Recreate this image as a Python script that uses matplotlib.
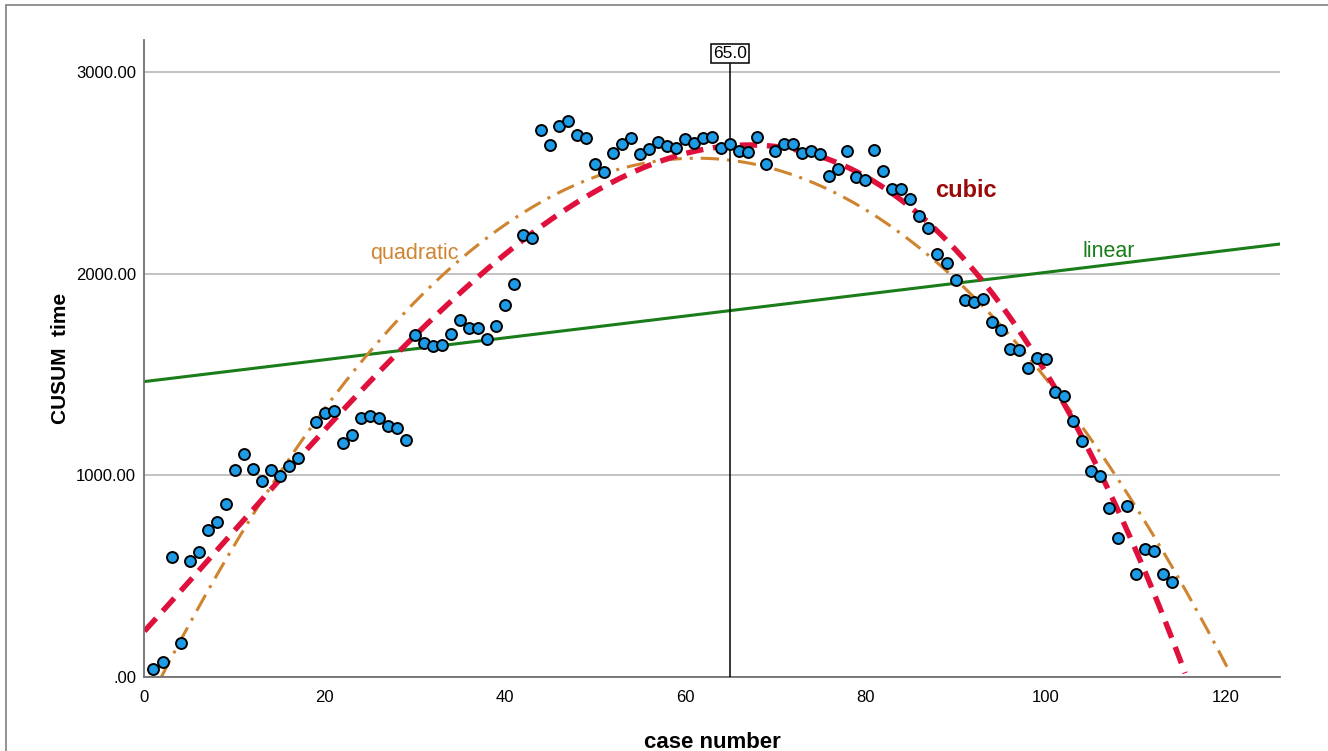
import numpy as np
import matplotlib.pyplot as plt
from matplotlib.patches import Rectangle

plt.rcParams["font.family"] = ["Liberation Sans", "DejaVu Sans"]

# case numbers (case 18 is not visible in the chart)
case_no = [1, 2, 3, 4, 5, 6, 7, 8, 9, 10, 11, 12, 13, 14, 15, 16, 17,
           19, 20, 21, 22, 23, 24, 25, 26, 27, 28, 29, 30,
           31, 32, 33, 34, 35, 36, 37, 38, 39, 40,
           41, 42, 43, 44, 45, 46, 47, 48, 49, 50,
           51, 52, 53, 54, 55, 56, 57, 58, 59, 60,
           61, 62, 63, 64, 65, 66, 67, 68, 69, 70,
           71, 72, 73, 74, 75, 76, 77, 78, 79, 80,
           81, 82, 83, 84, 85, 86, 87, 88, 89, 90,
           91, 92, 93, 94, 95, 96, 97, 98, 99, 100,
           101, 102, 103, 104, 105, 106, 107, 108, 109, 110,
           111, 112, 113, 114]
cusum_time = [41, 76, 597, 167, 575, 620, 732, 767, 861, 1026, 1106, 1033, 972, 1025, 998, 1046, 1089,
              1266, 1312, 1320, 1159, 1203, 1287, 1296, 1283, 1248, 1235, 1178, 1696,
              1659, 1643, 1646, 1704, 1770, 1732, 1732, 1679, 1742, 1844,
              1952, 2195, 2180, 2715, 2642, 2733, 2758, 2689, 2676, 2547,
              2505, 2601, 2646, 2676, 2596, 2621, 2656, 2633, 2624, 2669,
              2652, 2677, 2682, 2624, 2646, 2608, 2604, 2682, 2547, 2608,
              2646, 2646, 2601, 2609, 2596, 2484, 2519, 2608, 2480, 2464,
              2613, 2509, 2423, 2423, 2373, 2286, 2228, 2101, 2054, 1970,
              1869, 1863, 1878, 1762, 1722, 1630, 1621, 1535, 1585, 1580,
              1414, 1393, 1271, 1170, 1023, 998, 839, 688, 849, 509,
              633, 625, 509, 470]

cut_case = 65.0
x_max = 126
y_max = 3160

x = np.array(case_no, dtype=float)
y = np.array(cusum_time, dtype=float)
xs = np.linspace(0, x_max, 600)
fit_lin = np.polyval(np.polyfit(x, y, 1), xs)
fit_quad = np.polyval(np.polyfit(x, y, 2), xs)
fit_cub = np.polyval(np.polyfit(x, y, 3), xs)

fig = plt.figure(figsize=(13.28, 7.51), dpi=100)
ax = fig.add_axes([0.1088, 0.0985, 0.855, 0.848])

# outer frame of the exported picture
fig.patches.append(Rectangle((6 / 1328, -0.1), 1.2, 1.1 - 5 / 751,
                             transform=fig.transFigure, fill=False,
                             edgecolor="#808080", linewidth=1.2))

ax.yaxis.grid(True, color="#b8b8b8", linewidth=1.2)
ax.set_axisbelow(True)

ax.plot(xs, fit_lin, color="#1a7d1a", linewidth=2.2, zorder=2)
mq = fit_quad >= 0
ax.plot(xs[mq], fit_quad[mq], color="#cf8430", linewidth=2.2,
        dashes=(6, 2.6, 1, 2.6), zorder=2)
mc = fit_cub >= 0
ax.plot(xs[mc], fit_cub[mc], color="#e0103c", linewidth=3.9,
        dashes=(3.2, 1.8), zorder=2)

ax.axvline(cut_case, ymax=0.962, color="black", linewidth=1.1, zorder=3)
ax.text(cut_case, 3095, f"{cut_case:.1f}", ha="center", va="center", fontsize=12.5,
        bbox=dict(boxstyle="square,pad=0.12", facecolor="white", edgecolor="black", linewidth=1.1),
        zorder=4)

ax.scatter(x, y, s=62, facecolor="#1e9be6", edgecolor="black", linewidth=1.4, zorder=5)

ax.text(30, 2102, "quadratic", color="#cf8430", fontsize=15.5, ha="center", va="center")
ax.text(107, 2112, "linear", color="#1a7d1a", fontsize=15.5, ha="center", va="center")
ax.text(91.2, 2414, "cubic", color="#9b0a0a", fontsize=17, fontweight="bold", ha="center", va="center")

ax.set_xlim(0, x_max)
ax.set_ylim(0, y_max)
ax.set_xticks([0, 20, 40, 60, 80, 100, 120])
ax.set_yticks([0, 1000, 2000, 3000])
ax.set_yticklabels([".00", "1000.00", "2000.00", "3000.00"])
ax.tick_params(length=0, labelsize=12, pad=9)
ax.tick_params(axis="y", pad=6)
for side in ("top", "right"):
    ax.spines[side].set_visible(False)
for side in ("left", "bottom"):
    ax.spines[side].set_color("#707070")
    ax.spines[side].set_linewidth(1.3)

ax.set_xlabel("case number", fontsize=16, fontweight="bold", labelpad=20)
ax.set_ylabel("CUSUM  time", fontsize=15, fontweight="bold", labelpad=4)

fig.savefig("out.png", dpi=100)
